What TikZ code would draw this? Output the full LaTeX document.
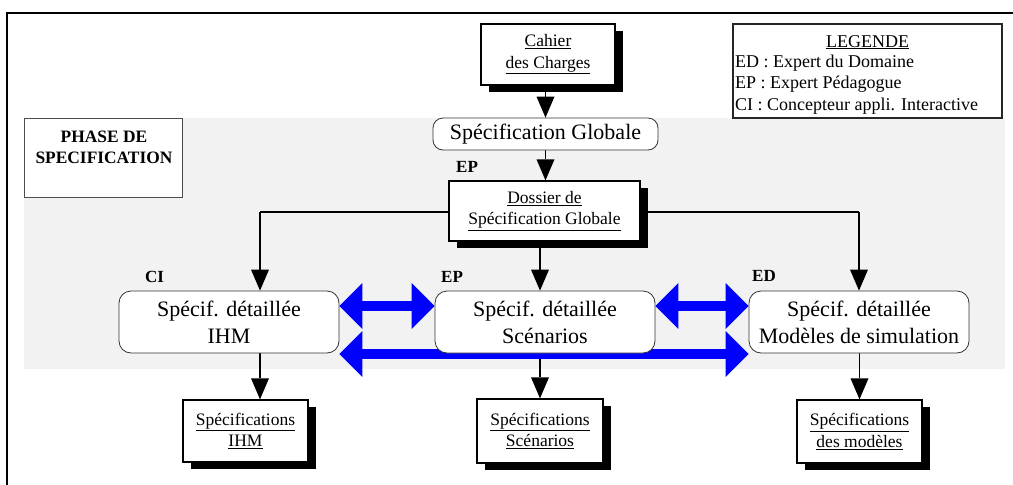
\documentclass[tikz,border=0pt]{standalone}
\usepackage{fontspec}
\setmainfont{Liberation Serif}
\usetikzlibrary{arrows.meta,shadows,calc}
\definecolor{bggray}{RGB}{242,242,242}
\definecolor{bblue}{RGB}{0,0,255}
\pgfdeclarelayer{bglayer}
\pgfdeclarelayer{midlayer}
\pgfsetlayers{bglayer,midlayer,main}
\tikzset{
  doc/.style={draw=black, line width=1.3pt, fill=white, inner sep=0pt, align=center,
    font=\fontsize{17.5}{21.5}\selectfont,
    drop shadow={shadow xshift=8pt, shadow yshift=-7pt, fill=black, opacity=1, draw=none}},
  proc/.style={draw=black!80, line width=0.8pt, fill=white, rounded corners=12pt, inner sep=0pt,
    align=center, font=\fontsize{22}{27}\selectfont, minimum height=62pt, minimum width=220pt},
  arr/.style={line width=1.8pt, -{Triangle[width=18pt,length=21pt,line width=0pt]}},
  link/.style={line width=1.8pt},
  barr/.style={bblue, line width=10pt,
    {Triangle[width=46pt,length=23pt,line width=0pt]}-{Triangle[width=46pt,length=23pt,line width=0pt]}},
  role/.style={font=\bfseries\fontsize{17}{20}\selectfont, inner sep=0pt, anchor=base west},
  legtext/.style={font=\fontsize{18}{21}\selectfont, inner sep=0pt, anchor=base west},
  phasetext/.style={font=\bfseries\fontsize{17.4}{21}\selectfont, inner sep=0pt, anchor=base},
}
\begin{document}
\begin{tikzpicture}[x=1pt,y=-1pt]
\useasboundingbox (0,0) rectangle (1013,485);
\begin{pgfonlayer}{bglayer}
\fill[white] (0,0) rectangle (1013,485);
\fill[bggray] (24,118) rectangle (1005,369);
\end{pgfonlayer}
% frame
\draw[line width=2.5pt] (7,485) -- (7,13) -- (1013,13);

% legend
\node[draw=black!85, line width=1.3pt, fill=white, minimum width=269pt, minimum height=94pt, inner sep=0pt] (leg) at (867.5,71) {};
\node[legtext, anchor=base] (legt) at (867.5,47) {\underline{LEGENDE}};
\node[legtext] (leged) at (735,67) {ED : Expert du Domaine};
\node[legtext] (legep) at (735,88) {EP : Expert Pédagogue};
\node[legtext] (legci) at (735,110) {CI : Concepteur appli. Interactive};

% phase box
\node[draw=black!70, line width=0.9pt, fill=white, minimum width=158pt, minimum height=79pt, inner sep=0pt] (phase) at (103,157.5) {};
\node[phasetext] (ph1) at (104,142) {PHASE DE};
\node[phasetext] (ph2) at (104,163) {SPECIFICATION};

% nodes
\node[doc, minimum width=134pt, minimum height=61pt] (cahier) at (548,54.5) {\underline{Cahier}\\\underline{des Charges}};
\node[proc, rounded corners=10pt, minimum width=225pt, minimum height=32pt] (sglob) at (545.5,134) {Spécification Globale};
\node[doc, minimum width=191pt, minimum height=60pt] (dossier) at (544.5,211) {\underline{Dossier de}\\\underline{Spécification Globale}};
\node[proc] (ihm) at (229,322) {Spécif. détaillée\\IHM};
\node[proc] (scen) at (545,322) {Spécif. détaillée\\Scénarios};
\node[proc] (modl) at (859,322) {Spécif. détaillée\\Modèles de simulation};
\node[doc, minimum width=125pt, minimum height=62pt] (specihm) at (245.5,431) {\underline{Spécifications}\\\underline{IHM}};
\node[doc, minimum width=126pt, minimum height=64pt] (specscen) at (540,431) {\underline{Spécifications}\\\underline{Scénarios}};
\node[doc, minimum width=125pt, minimum height=63pt] (specmod) at (859.5,431.5) {\underline{Spécifications}\\\underline{des modèles}};

% role labels
\node[role] (rep1) at (456,172) {EP};
\node[role] (rci) at (145,282) {CI};
\node[role] (rep2) at (441,282) {EP};
\node[role] (red) at (752,281) {ED};

% connectors
\coordinate (jl) at (260,212);
\coordinate (jr) at (859,212);
\begin{pgfonlayer}{midlayer}
\draw[arr] (cahier.south -| sglob.north) -- (sglob.north);
\draw[arr] (sglob.south) -- (dossier.north -| sglob.south);
\draw[link] (jl) -- (jr);
\draw[arr] (jl) -- (jl |- ihm.north);
\draw[arr] (jr) -- (jr |- modl.north);
\draw[arr] (specscen.north |- dossier.south) -- (specscen.north |- scen.north);
\draw[arr] (jl |- ihm.south) -- (jl |- specihm.north);
\draw[arr] (specscen.north |- scen.south) -- (specscen.north);
\draw[arr] (modl.south -| specmod.north) -- (specmod.north);
% blue exchanges
\draw[barr] ($(ihm.east)+(0,-16)$) -- ($(scen.west)+(0,-16)$);
\draw[barr] ($(scen.east)+(0,-16)$) -- ($(modl.west)+(0,-16)$);
\draw[barr] ($(ihm.south east)+(0,0.5)$) -- ($(modl.south west)+(0,0.5)$);
\end{pgfonlayer}
\end{tikzpicture}
\end{document}
